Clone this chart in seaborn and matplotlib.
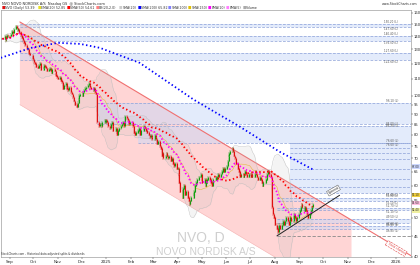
import numpy as np
import pandas as pd
import matplotlib
matplotlib.use("Agg")
import matplotlib.pyplot as plt
import matplotlib.dates as mdates
import seaborn as sns

sns.set_theme(style="white")
plt.rcParams["font.family"] = ["DejaVu Sans"]

# ---------------- data ----------------
close_aug24 = [138, 140, 137, 139, 141, 140]
close_sep24 = [140, 142, 144, 143, 146, 148, 147, 145, 146, 143, 141, 139, 137, 135, 133, 131, 130, 128, 127, 126, 124]
close_oct24 = [123, 121, 120, 118, 117, 119, 120, 118, 116, 117, 119, 118, 117, 115, 116, 117, 115, 114, 116, 115, 113, 112, 111]
close_nov24 = [110, 111, 109, 108, 104, 106, 107, 105, 104, 103, 105, 102, 101, 99, 97, 95, 94, 96, 98, 100, 101]
close_dec24 = [100, 102, 103, 104, 105, 106, 107, 106, 105, 104, 103, 104, 102, 101, 86, 84, 85, 85, 84, 86, 87, 86]
close_jan25 = [87, 86, 84, 83, 85, 86, 84, 82, 83, 81, 80, 82, 83, 84, 85, 86, 84, 89, 88, 87, 86, 85, 86]
close_feb25 = [85, 84, 81, 80, 81, 82, 83, 81, 80, 82, 83, 84, 83, 82, 81, 80, 79, 80, 79, 78]
close_mar25 = [80, 79, 78, 76, 77, 75, 74, 71, 72, 70, 71, 72, 71, 70, 71, 69, 70, 68, 67, 68, 66]
close_apr25 = [66, 64, 61, 58, 56, 59, 60, 57, 58, 56, 55, 54, 55, 56, 57, 58, 60, 61, 62, 63, 63, 64]
close_may25 = [62, 61, 62, 60, 61, 62, 63, 62, 61, 60, 61, 62, 63, 62, 63, 64, 63, 64, 65, 66, 65, 66]
close_jun25 = [67, 69, 71, 72, 73, 74, 73, 71, 70, 68, 66, 65, 64, 63, 64, 63, 64, 65, 64, 63, 64]
close_jul25 = [64, 63, 64, 63, 64, 65, 64, 63, 62, 63, 62, 61, 60, 61, 62, 63, 64, 65, 64, 63, 53, 51, 50]
close_aug25 = [48, 47, 46, 47, 48, 47, 48, 49, 48, 49, 50, 49, 48, 49, 50, 49, 50, 51, 50, 49, 50]
close_sep25 = [51, 52, 53, 54, 53, 52, 53, 52, 51, 50, 51, 52, 53, 54]

sma200_dates = ["2024-08-21", "2024-09-28", "2024-11-01", "2024-11-29", "2024-12-24",
                "2025-02-12", "2025-04-21", "2025-06-18", "2025-08-07", "2025-09-18"]
sma200_vals = [124.0, 131.2, 135.0, 134.2, 131.2, 120.5, 97.8, 83.9, 72.8, 65.8]

# support / resistance zones (low, high) and start dates
zone_lo = [147.6, 136.5, 122.6, 85.3, 76.6, 57.4, 55.1, 52.1, 48.6, 46.8]
zone_hi = [150.2, 140.4, 127.6, 96.1, 84.0, 76.6, 55.9, 52.7, 49.5, 47.6]
zone_start = ["2024-09-14", "2024-09-14", "2024-09-14", "2024-12-20", "2025-02-10",
              "2025-08-20", "2025-08-04", "2025-08-04", "2025-08-04", "2025-08-04"]
inner_levels = [74.1, 72.4, 69.6, 65.8, 62.3, 59.6]

channel_dates = ["2024-09-14", "2026-01-20"]
channel_upper = [152.0, 40.3]
channel_offset_px = 83

trend_dates = ["2025-08-04", "2025-10-22"]
trend_vals = [45.1, 56.8]
support_level = 45.0

month_ticks = ["Sep", "Oct", "Nov", "Dec", "2025", "Feb", "Mar", "Apr", "May", "Jun",
               "Jul", "Aug", "Sep", "Oct", "Nov", "Dec", "2026"]

# ---------------- build frame ----------------
closes = (close_aug24 + close_sep24 + close_oct24 + close_nov24 + close_dec24 + close_jan25 +
          close_feb25 + close_mar25 + close_apr25 + close_may25 + close_jun25 + close_jul25 +
          close_aug25 + close_sep25)
dates = pd.bdate_range("2024-08-23", periods=len(closes))
df = pd.DataFrame({"date": dates, "close": np.array(closes, float)})
df["open"] = df["close"].shift(1).fillna(df["close"])
df["ema20"] = df["close"].ewm(span=20, adjust=False).mean()
df["sma50"] = df["close"].rolling(50, min_periods=1).mean()
df["sma20"] = df["close"].rolling(20, min_periods=2).mean()
sd = df["close"].rolling(20, min_periods=2).std()
df["bbu"] = df["sma20"] + 2 * sd
df["bbl"] = df["sma20"] - 2 * sd

fig = plt.figure(figsize=(4.2, 2.65), dpi=100)
fig.patch.set_facecolor("white")
ax = fig.add_axes([0.002, 0.0302, 0.9766, 0.9321])
ax.set_yscale("log")
x0, x1 = pd.Timestamp("2024-08-21"), pd.Timestamp("2026-01-20")
ax.set_xlim(x0, x1)
ax.set_ylim(40.2, 162.7)
YL = (np.log(40.2), np.log(162.7))


def yfrac(v):
    return (np.log(v) - YL[0]) / (YL[1] - YL[0])


# channel (pink parallelogram)
cd = mdates.date2num(pd.to_datetime(channel_dates))
ax.plot(pd.to_datetime(channel_dates), channel_upper, color="#f07070", lw=0.8, zorder=2)
fig.canvas.draw()
trans = ax.transData
p_up = trans.transform(np.column_stack([cd, channel_upper]))
p_lo = p_up.copy()
p_lo[:, 1] -= channel_offset_px
d_lo = trans.inverted().transform(p_lo)
right_end = mdates.date2num(pd.Timestamp("2025-11-06"))
fr = (right_end - cd[0]) / (cd[1] - cd[0])
up_r = np.exp(np.log(channel_upper[0]) + fr * (np.log(channel_upper[1]) - np.log(channel_upper[0])))
lo_r = np.exp(np.log(d_lo[0, 1]) + fr * (np.log(d_lo[1, 1]) - np.log(d_lo[0, 1])))
ax.fill([cd[0], right_end, right_end, cd[0]], [channel_upper[0], up_r, lo_r, d_lo[0, 1]],
        color="#ffc4c4", alpha=0.7, lw=0, zorder=1)
ax.plot([cd[0], right_end], [d_lo[0, 1], lo_r], color="#f4b0b0", lw=0.4, zorder=2)

# zones
for lo, hi, st in zip(zone_lo, zone_hi, zone_start):
    s = pd.Timestamp(st)
    ax.fill_between([s, x1], lo, hi, color="#c8d8f8", alpha=0.5, lw=0, zorder=1.5)
    for v in (lo, hi):
        ax.hlines(v, s, x1, colors="#8aa0d8", linestyles=(0, (4, 2)), lw=0.5, zorder=1.6)
    ax.text(pd.Timestamp("2026-01-04"), hi, f"{hi:.2f} (L)", fontsize=2.0, color="#555",
            ha="right", va="bottom", zorder=5)
    ax.text(pd.Timestamp("2026-01-04"), lo, f"{lo:.2f} (L)", fontsize=2.0, color="#555",
            ha="right", va="top", zorder=5)
for v in inner_levels:
    ax.hlines(v, pd.Timestamp("2025-08-20"), x1, colors="#8aa0d8", linestyles=(0, (4, 2)), lw=0.5, zorder=1.6)

ax.hlines(support_level, pd.Timestamp("2025-08-04"), x1, colors="#888", linestyles=(0, (4, 2)), lw=0.6, zorder=2)

# bollinger shading
ax.fill_between(df["date"], df["bbl"], df["bbu"], color="#b8b8b8", alpha=0.14, lw=0, zorder=2)
ax.plot(df["date"], df["bbu"], color="#bdbdbd", lw=0.3, zorder=2)
ax.plot(df["date"], df["bbl"], color="#bdbdbd", lw=0.3, zorder=2)
sns.lineplot(x=df["date"], y=df["sma20"], ax=ax, color="#e8b840", lw=0.4, zorder=3)

# candles
up = df["close"] >= df["open"]
hi_ = np.maximum(df["open"], df["close"]) * 1.008
lo_ = np.minimum(df["open"], df["close"]) * 0.992
col = np.where(up, "#10a010", "#e01010")
ax.vlines(df["date"], lo_, hi_, colors=col, lw=0.3, zorder=4)
ax.vlines(df["date"], np.minimum(df["open"], df["close"]), np.maximum(df["open"], df["close"]) * 1.002,
          colors=col, lw=0.8, zorder=4)

# moving averages
sns.lineplot(x=df["date"], y=df["ema20"], ax=ax, color="#ff00ff", lw=1.3, linestyle=(0, (0.8, 1.2)), zorder=5)
sns.lineplot(x=df["date"], y=df["sma50"], ax=ax, color="#ff0000", lw=1.3, linestyle=(0, (0.8, 1.4)), zorder=5)
sns.lineplot(x=pd.to_datetime(sma200_dates), y=sma200_vals, ax=ax, color="#0000ff", lw=1.3,
             linestyle=(0, (0.8, 1.4)), zorder=5)

# trendline
ax.plot(pd.to_datetime(trend_dates), trend_vals, color="#222", lw=0.7, zorder=6)
ax.text(pd.Timestamp(trend_dates[1]), trend_vals[1], "Uptrend", fontsize=2.2, rotation=30,
        ha="right", va="bottom", bbox=dict(boxstyle="square,pad=0.2", fc="white", ec="#444", lw=0.3))
ax.text(pd.Timestamp("2026-01-14"), 42.0, "Trend channel", fontsize=2.2, rotation=-31, color="#e04040",
        ha="right", va="center", bbox=dict(boxstyle="square,pad=0.2", fc="white", ec="#e04040", lw=0.4, ls="--"))

# watermark
ax.text(0.488, 0.078, "NVO, D", transform=ax.transAxes, fontsize=10, color="#cfcfcf", ha="center",
        va="center", zorder=0.5, family="Liberation Sans")
ax.text(0.50, 0.022, "NOVO NORDISK A/S", transform=ax.transAxes, fontsize=7.5, color="#cfcfcf",
        ha="center", va="center", zorder=0.5, family="Liberation Sans")

# axes styling
ax.yaxis.tick_right()
yt = [40, 45, 50, 55, 60, 65, 70, 75, 80, 85, 90, 95, 100, 110, 120, 130, 140, 150, 160]
ax.set_yticks(yt)
ax.set_yticklabels([str(v) for v in yt])
ax.yaxis.set_minor_formatter(matplotlib.ticker.NullFormatter())
ax.tick_params(axis="y", which="both", labelsize=2.7, length=1.2, width=0.3, pad=0.5, right=True)
tick_dates = pd.date_range("2024-09-01", periods=len(month_ticks), freq="MS")
ax.set_xticks(tick_dates)
ax.set_xticklabels(month_ticks)
ax.tick_params(axis="x", labelsize=3, length=1.5, width=0.3, pad=0.5, bottom=True)
ax.set_xlabel("")
ax.set_ylabel("")
for s in ax.spines.values():
    s.set_linewidth(0.4)
    s.set_color("#888")

# value boxes on right axis
pos = ax.get_position()
for v, fc in [(67.0, "#ccd8ff"), (57.1, "#f0d040"), (54.6, "#ffc0e0"), (52.4, "#f0f0a0")]:
    fig.text(0.999, pos.y0 + yfrac(v) * pos.height, f"{v:.2f}", fontsize=2.0, ha="right", va="center",
             bbox=dict(boxstyle="square,pad=0.12", fc=fc, ec="none"))

# header
fig.text(0.005, 0.992, "NVO NOVO NORDISK A/S  Nasdaq GS  @ StockCharts.com", fontsize=2.5, va="top")
leg = [("NVO (Daily) 53.39", "#e01010"), ("EMA(20) 52.85", "#e8e020"), ("SMA(50) 54.61", "#ff0000"),
       ("BB(20,2.0)", "#ff8080"), ("SMA(20)", "#cccccc"), ("SMA(200) 65.82", "#0000ff"),
       ("SMA(100)", "#8080ff"), ("SMA(150)", "#e0c000"), ("EMA(10)", "#ff00ff"), ("EMA(5)", "#ff80ff"),
       ("Volume", "#aaaaaa")]
xx = 0.005
for lab, c in leg:
    fig.text(xx, 0.963, "\u25a0", color=c, fontsize=2.6, va="bottom")
    fig.text(xx + 0.008, 0.963, lab, fontsize=2.3, va="bottom", color="#333")
    xx += 0.008 + 0.0042 * len(lab) + 0.006
fig.text(0.995, 0.992, "www.StockCharts.com", fontsize=2.3, ha="right", va="top", color="#333")
fig.text(0.003, 0.033, "StockCharts.com - Historical data adjusted splits & dividends", fontsize=2, va="bottom", color="#333")

fig.savefig("out.png", dpi=100, facecolor="white")
